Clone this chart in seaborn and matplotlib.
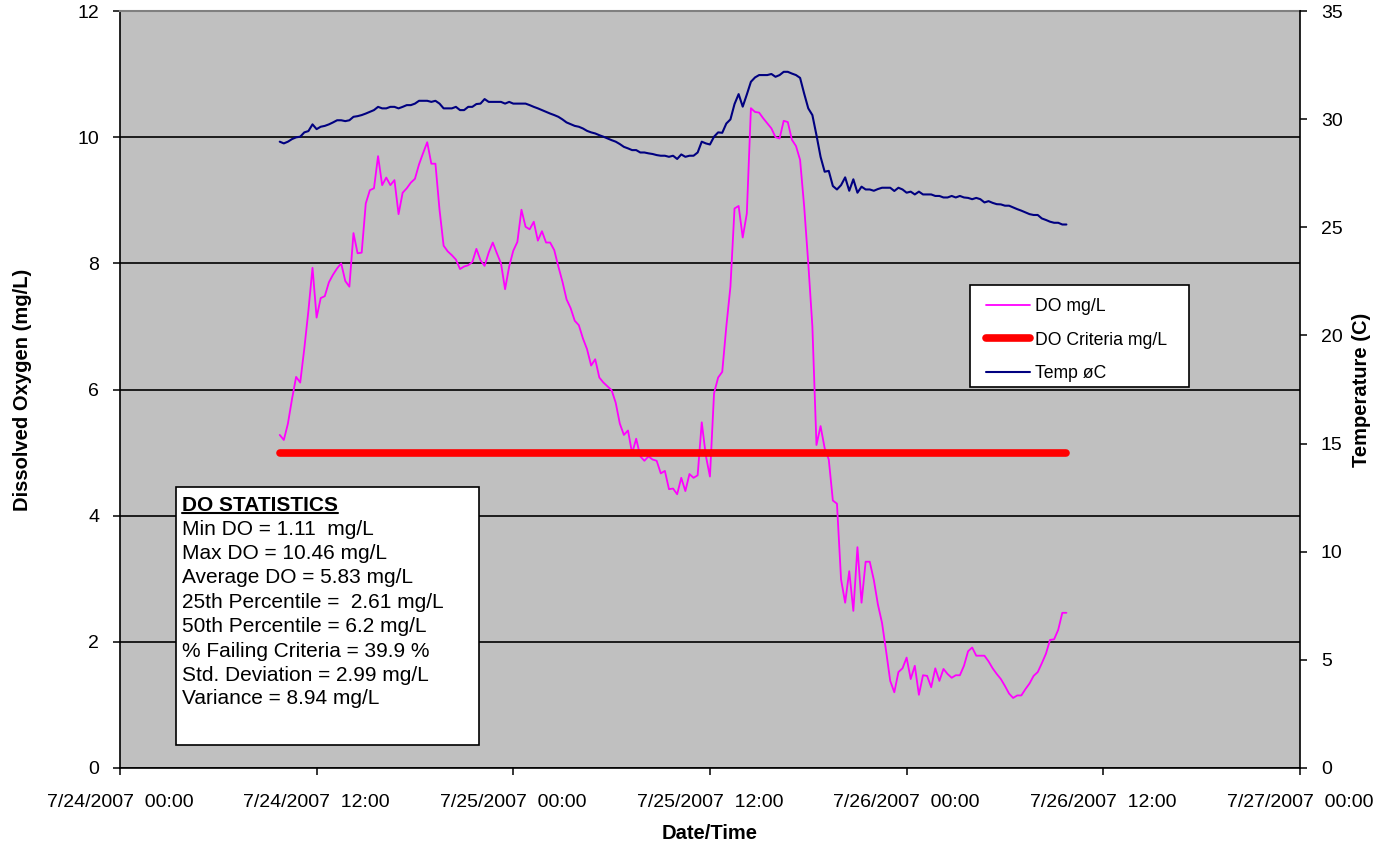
import matplotlib
matplotlib.use("Agg")
import matplotlib.pyplot as plt
import matplotlib.dates as mdates
from matplotlib.patches import Rectangle
from matplotlib.lines import Line2D
import seaborn as sns
import pandas as pd

# ---- data: 15-minute readings, 7/24/2007 09:45 to 7/26/2007 09:45 ----
start_time = "2007-07-24 09:45"
interval = "15min"

do_mgl = [
    5.28, 5.20, 5.46, 5.85, 6.20, 6.11, 6.65, 7.25, 7.93, 7.14,
    7.45, 7.48, 7.70, 7.82, 7.92, 8.00, 7.72, 7.63, 8.48, 8.16,
    8.17, 8.95, 9.16, 9.19, 9.70, 9.24, 9.36, 9.24, 9.32, 8.78,
    9.12, 9.19, 9.28, 9.34, 9.57, 9.75, 9.92, 9.58, 9.58, 8.85,
    8.28, 8.19, 8.13, 8.06, 7.91, 7.95, 7.97, 8.02, 8.23, 8.05,
    7.96, 8.17, 8.33, 8.16, 8.00, 7.59, 7.95, 8.20, 8.34, 8.85,
    8.58, 8.54, 8.66, 8.36, 8.51, 8.33, 8.33, 8.21, 7.95, 7.71,
    7.43, 7.29, 7.09, 7.02, 6.81, 6.64, 6.38, 6.48, 6.19, 6.11,
    6.05, 5.99, 5.79, 5.46, 5.28, 5.35, 4.99, 5.22, 4.94, 4.87,
    4.94, 4.89, 4.87, 4.67, 4.71, 4.42, 4.43, 4.34, 4.60, 4.39,
    4.66, 4.60, 4.64, 5.48, 4.95, 4.62, 5.94, 6.19, 6.28, 7.00,
    7.63, 8.87, 8.91, 8.41, 8.79, 10.46, 10.40, 10.39, 10.30, 10.22,
    10.14, 10.00, 9.98, 10.26, 10.24, 9.96, 9.86, 9.64, 8.90, 8.00,
    7.00, 5.12, 5.42, 5.07, 4.89, 4.24, 4.19, 2.99, 2.62, 3.12,
    2.49, 3.50, 2.62, 3.27, 3.27, 2.98, 2.59, 2.30, 1.85, 1.38,
    1.20, 1.52, 1.58, 1.75, 1.41, 1.62, 1.16, 1.47, 1.46, 1.28,
    1.58, 1.38, 1.57, 1.49, 1.43, 1.47, 1.47, 1.62, 1.85, 1.91,
    1.78, 1.78, 1.78, 1.69, 1.58, 1.49, 1.41, 1.30, 1.18, 1.11,
    1.15, 1.15, 1.25, 1.34, 1.46, 1.52, 1.66, 1.81, 2.03, 2.04,
    2.19, 2.46, 2.46,
]

temp_c = [
    28.96, 28.88, 28.96, 29.08, 29.16, 29.19, 29.39, 29.45, 29.76, 29.54,
    29.65, 29.69, 29.76, 29.85, 29.95, 29.95, 29.91, 29.95, 30.11, 30.14,
    30.19, 30.26, 30.34, 30.42, 30.57, 30.50, 30.50, 30.57, 30.57, 30.50,
    30.57, 30.65, 30.65, 30.72, 30.85, 30.85, 30.85, 30.80, 30.85, 30.72,
    30.50, 30.50, 30.50, 30.57, 30.42, 30.42, 30.57, 30.57, 30.70, 30.72,
    30.93, 30.80, 30.80, 30.80, 30.80, 30.72, 30.80, 30.72, 30.72, 30.72,
    30.72, 30.65, 30.57, 30.50, 30.42, 30.34, 30.26, 30.19, 30.11, 29.99,
    29.85, 29.77, 29.69, 29.65, 29.57, 29.46, 29.39, 29.34, 29.26, 29.19,
    29.11, 29.03, 28.96, 28.85, 28.72, 28.65, 28.57, 28.57, 28.46, 28.46,
    28.42, 28.39, 28.34, 28.31, 28.31, 28.26, 28.31, 28.16, 28.37, 28.26,
    28.31, 28.31, 28.46, 28.96, 28.88, 28.83, 29.19, 29.39, 29.37, 29.80,
    29.99, 30.70, 31.16, 30.58, 31.14, 31.73, 31.93, 32.04, 32.04, 32.04,
    32.09, 31.96, 32.04, 32.19, 32.19, 32.11, 32.04, 31.91, 31.18, 30.50,
    30.19, 29.26, 28.26, 27.57, 27.61, 26.91, 26.75, 26.95, 27.31, 26.69,
    27.22, 26.60, 26.88, 26.75, 26.75, 26.69, 26.77, 26.83, 26.83, 26.83,
    26.68, 26.83, 26.75, 26.60, 26.65, 26.52, 26.65, 26.52, 26.52, 26.52,
    26.45, 26.45, 26.38, 26.38, 26.45, 26.38, 26.45, 26.38, 26.36, 26.30,
    26.36, 26.30, 26.15, 26.21, 26.13, 26.07, 26.06, 26.00, 26.00, 25.92,
    25.84, 25.77, 25.69, 25.61, 25.57, 25.57, 25.41, 25.34, 25.26, 25.21,
    25.21, 25.13, 25.13,
]

do_criteria = 5.0

series_labels = ["DO mg/L", "DO Criteria mg/L", "Temp \u00f8C"]

stats_title = "DO STATISTICS"
stats_lines = [
    "Min DO = {:.2f}  mg/L".format(min(do_mgl)),
    "Max DO = {:.2f} mg/L".format(max(do_mgl)),
    "Average DO = 5.83 mg/L",
    "25th Percentile =  2.61 mg/L",
    "50th Percentile = 6.2 mg/L",
    "% Failing Criteria = 39.9 %",
    "Std. Deviation = 2.99 mg/L",
    "Variance = 8.94 mg/L",
]

x_start = pd.Timestamp("2007-07-24 00:00")
x_end = pd.Timestamp("2007-07-27 00:00")

# ---- frame ----
times = pd.date_range(start_time, periods=len(do_mgl), freq=interval)
df = pd.DataFrame({
    "time": times,
    "do": do_mgl,
    "criteria": [do_criteria] * len(do_mgl),
    "temp": temp_c,
})

sns.set_theme(style="white")
plt.rcParams["font.family"] = ["Liberation Sans", "DejaVu Sans"]
plt.rcParams["text.color"] = "black"
plt.rcParams["axes.labelcolor"] = "black"
plt.rcParams["xtick.color"] = "black"
plt.rcParams["ytick.color"] = "black"

fig = plt.figure(figsize=(13.93, 8.5), dpi=100)
fig.patch.set_facecolor("white")
ax = fig.add_axes([0.0861, 0.0965, 0.9332 - 0.0861, 0.987 - 0.0965])
ax.set_facecolor("#C0C0C0")
ax2 = ax.twinx()

sns.lineplot(data=df, x="time", y="do", ax=ax, color="#FF00FF", linewidth=1.3,
             estimator=None, sort=False, legend=False, zorder=3)
sns.lineplot(data=df, x="time", y="criteria", ax=ax, color="#FF0000", linewidth=5.5,
             estimator=None, sort=False, legend=False, zorder=4,
             solid_capstyle="round")
sns.lineplot(data=df, x="time", y="temp", ax=ax2, color="#000080", linewidth=1.5,
             estimator=None, sort=False, legend=False, zorder=3)

# ---- axes ----
ax.set_xlim(x_start, x_end)
ax.set_ylim(0, 12)
ax.set_yticks(range(0, 13, 2))
ax2.set_ylim(0, 35)
ax2.set_yticks(range(0, 36, 5))

ax.xaxis.set_major_locator(mdates.HourLocator(byhour=[0, 12]))


def fmt_date(v, pos=None):
    d = mdates.num2date(v)
    return f"{d.month}/{d.day}/{d.year}  {d:%H:%M}"


ax.xaxis.set_major_formatter(plt.FuncFormatter(fmt_date))

ax.yaxis.grid(True, color="black", linewidth=1.2)
ax.xaxis.grid(False)
ax.set_axisbelow(True)

tick_kw = dict(direction="out", length=5, width=1.1, color="black",
               labelsize=14, labelcolor="black")
ax.tick_params(axis="x", bottom=True, pad=14, **tick_kw)
ax.tick_params(axis="y", left=True, pad=10, **tick_kw)
ax2.tick_params(axis="y", right=True, pad=10, **tick_kw)

ax.set_xlabel("Date/Time", fontsize=14.5, fontweight="bold", labelpad=9,
              color="black")
ax.set_ylabel("Dissolved Oxygen (mg/L)", fontsize=14.5, fontweight="bold",
              labelpad=33, color="black")
ax2.set_ylabel("Temperature (C)", fontsize=14.5, fontweight="bold", labelpad=7,
               color="black")

for side in ["left", "bottom"]:
    ax.spines[side].set_color("black")
    ax.spines[side].set_linewidth(1.2)
ax.spines["top"].set_color("#808080")
ax.spines["top"].set_linewidth(1.5)
ax.spines["right"].set_visible(False)
for side in ["left", "bottom", "top"]:
    ax2.spines[side].set_visible(False)
ax2.spines["right"].set_color("black")
ax2.spines["right"].set_linewidth(1.2)

# ---- legend (fixed-size white box with the entries on top) ----
legend_box = Rectangle((0.7203, 0.5033), 0.1856, 0.1347,
                       transform=ax2.transAxes, facecolor="white",
                       edgecolor="black", linewidth=1.2, zorder=9)
ax2.add_patch(legend_box)

handles = [
    Line2D([], [], color="#FF00FF", linewidth=1.3),
    Line2D([], [], color="#FF0000", linewidth=5.5, solid_capstyle="round"),
    Line2D([], [], color="#000080", linewidth=1.5),
]
leg = ax2.legend(handles, series_labels, loc="upper left",
                 bbox_to_anchor=(0.7203, 0.642), bbox_transform=ax2.transAxes,
                 borderaxespad=0, fontsize=12.7, frameon=False,
                 handlelength=2.5, handletextpad=0.3, labelspacing=0.95,
                 borderpad=0.9, labelcolor="black")
leg.set_zorder(10)

# ---- statistics box ----
box = Rectangle((0.0475, 0.0304), 0.3042 - 0.0475, 0.3712 - 0.0304,
                transform=ax2.transAxes, facecolor="white", edgecolor="black",
                linewidth=1.2, zorder=8)
ax2.add_patch(box)


def y_from_px(px):
    return (768 - px) / 757.0


tx = 0.0525
title = ax2.text(tx, y_from_px(510.7), stats_title, transform=ax2.transAxes,
                 fontsize=15, fontweight="bold", va="baseline", ha="left",
                 color="black", zorder=9)
baselines = [535, 559.3, 583.3, 608.3, 631.7, 656.7, 681, 704]
for line, b in zip(stats_lines, baselines):
    ax2.text(tx, y_from_px(b), line, transform=ax2.transAxes, fontsize=15,
             va="baseline", ha="left", color="black", zorder=9)

# underline the box heading
fig.canvas.draw()
bb = title.get_window_extent(fig.canvas.get_renderer())
base_disp = ax2.transAxes.transform((tx, y_from_px(510.7)))[1] - 2.5
inv = fig.transFigure.inverted()
(x0, y0) = inv.transform((bb.x0, base_disp))
(x1, _) = inv.transform((bb.x1, base_disp))
fig.add_artist(Line2D([x0, x1], [y0, y0], transform=fig.transFigure,
                      color="black", linewidth=1.5, zorder=20))

fig.savefig("out.png", dpi=100, facecolor="white")
